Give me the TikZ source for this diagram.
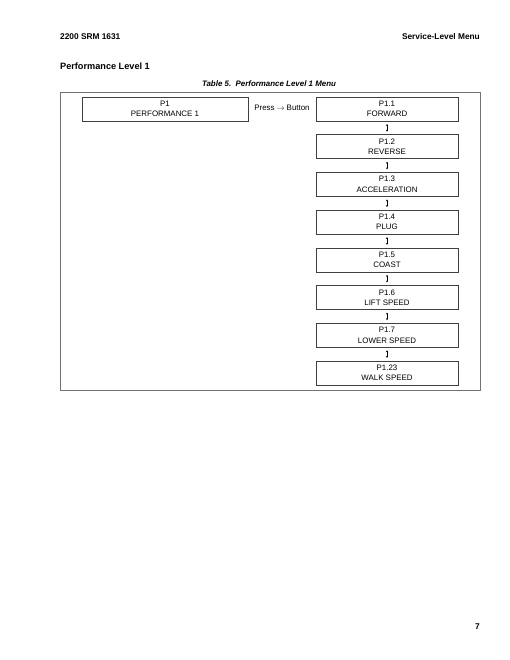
\documentclass[tikz,border=0pt]{standalone}
\usepackage{fontspec}
\setmainfont{Liberation Sans}
\usetikzlibrary{arrows.meta}

\tikzset{
  menubox/.style={draw=black!75, line width=0.6pt, minimum width=170pt, minimum height=28.8pt,
    inner sep=0pt, align=center, font=\fontsize{9.5}{12.5}\selectfont},
  updown/.style={{Stealth[length=2.2pt,width=2.6pt]}-{Stealth[length=2.2pt,width=2.6pt]}, line width=0.35pt,
    shorten <=3.4pt, shorten >=3.4pt}
}

\begin{document}
\begin{tikzpicture}[x=1.2pt,y=-1.2pt]
  \useasboundingbox (0,0) rectangle (510,660);

  % page head
  \node[anchor=base west, inner sep=0pt, font=\fontsize{10}{12}\selectfont\bfseries] (head) at (60,39) {2200 SRM 1631};
  \node[anchor=base east, inner sep=0pt, font=\fontsize{10}{12}\selectfont\bfseries] (section) at (480,39) {Service-Level Menu};
  \node[anchor=base west, inner sep=0pt, font=\fontsize{11}{13}\selectfont\bfseries] (level) at (60,69) {Performance Level 1};
  \node[anchor=base, inner sep=0pt, font=\fontsize{9.5}{12}\selectfont\bfseries\itshape] (caption) at (269,86) {Table 5.\ \ Performance Level 1 Menu};

  % table frame
  \draw[black!55, line width=0.9pt] (60,92) rectangle (480,390);

  \node[menubox, minimum width=199pt] (P1) at (165,109) {P1\\PERFORMANCE 1};
  \node[font=\fontsize{9.5}{12}\selectfont, inner sep=0pt] (press) at (282,108) {Press $\rightarrow$ Button};

  \foreach \num/\name [count=\k] in {1.1/FORWARD, 1.2/REVERSE, 1.3/ACCELERATION, 1.4/PLUG,
      1.5/COAST, 1.6/LIFT SPEED, 1.7/LOWER SPEED, 1.23/WALK SPEED}
    \node[menubox] (R\k) at (387,{109+37.7*(\k-1)}) {P\num\\\name};

  \foreach \k in {1,...,7} {
    \pgfmathtruncatemacro{\nxt}{\k+1}
    \draw[updown] (R\k.south) -- (R\nxt.north);
  }

  % page number
  \node[anchor=base east, inner sep=0pt, font=\fontsize{10}{12}\selectfont\bfseries] (page) at (480,629) {7};
\end{tikzpicture}
\end{document}
